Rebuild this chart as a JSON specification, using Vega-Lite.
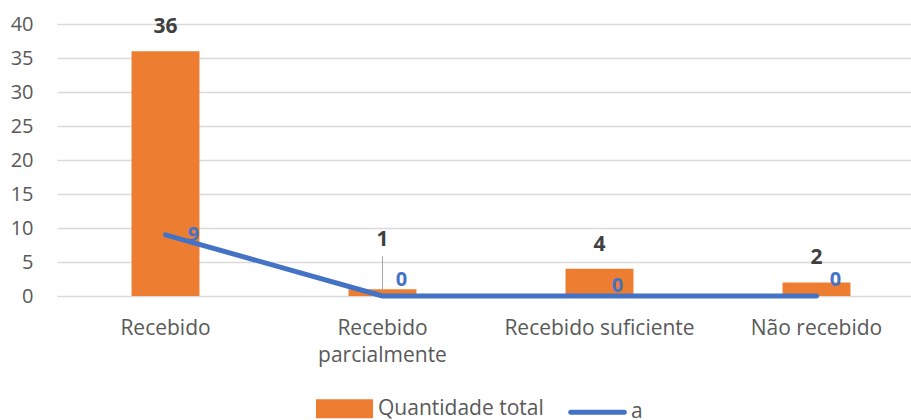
{
  "$schema": "https://vega.github.io/schema/vega-lite/v6.json",
  "width": 854,
  "height": 272,
  "autosize": {"type": "none"},
  "padding": {"left": 57, "top": 24, "right": 0, "bottom": 124},
  "background": "white",
  "config": {
    "font": "Open Sans",
    "view": {"stroke": null},
    "axisY": {"labelOverlap": false}
  },
  "data": {
    "values": [
      {"categoria": "Recebido", "quantidade": 36, "a": 9},
      {"categoria": "Recebido parcialmente", "quantidade": 1, "a": 0},
      {"categoria": "Recebido suficiente", "quantidade": 4, "a": 0},
      {"categoria": "Não recebido", "quantidade": 2, "a": 0}
    ]
  },
  "encoding": {
    "x": {
      "field": "categoria",
      "type": "nominal",
      "sort": null,
      "scale": {"paddingInner": 0, "paddingOuter": 0, "range": [0, 868]},
      "axis": {
        "title": null,
        "domain": false,
        "ticks": false,
        "grid": false,
        "labelAngle": 0,
        "labelPadding": 21,
        "labelFontSize": 21,
        "labelColor": "#595959",
        "labelLineHeight": 27,
        "labelLimit": 400,
        "labelOverlap": false,
        "labelExpr": "datum.label == 'Recebido parcialmente' ? ['Recebido', 'parcialmente'] : datum.label"
      }
    },
    "y": {
      "field": "quantidade",
      "type": "quantitative",
      "scale": {"domain": [0, 40], "nice": false},
      "axis": {
        "title": null,
        "values": [0, 5, 10, 15, 20, 25, 30, 35, 40],
        "domain": false,
        "ticks": false,
        "gridColor": "#D9D9D9",
        "gridWidth": 1.3,
        "labelFontSize": 20,
        "labelColor": "#595959",
        "labelPadding": 24,
        "labelOverlap": false
      }
    }
  },
  "layer": [
    {
      "mark": {"type": "bar", "width": {"band": 0.313}},
      "encoding": {
        "color": {
          "datum": "Quantidade total",
          "scale": {"domain": ["Quantidade total", "a"], "range": ["#ED7D31", "#4472C4"]},
          "legend": {
            "title": null,
            "orient": "none",
            "direction": "horizontal",
            "legendX": 259,
            "legendY": 356,
            "labelFontSize": 21,
            "labelColor": "#595959",
            "labelOffset": 5,
            "labelLimit": 400,
            "columnPadding": 16,
            "symbolSize": 2704,
            "encode": {
              "symbols": {
                "update": {
                  "shape": {"signal": "datum.value === 'a' ? 'M-1.03,0H1.03' : 'M-1,-0.27H1V0.27H-1Z'"},
                  "fill": {"signal": "datum.value === 'a' ? 'transparent' : '#ED7D31'"},
                  "stroke": {"signal": "datum.value === 'a' ? '#4472C4' : 'transparent'"},
                  "strokeWidth": {"value": 5},
                  "strokeCap": {"value": "round"},
                  "opacity": {"value": 1}
                }
              }
            }
          }
        }
      }
    },
    {
      "transform": [{"filter": "datum.categoria == 'Recebido parcialmente'"}],
      "mark": {"type": "rule", "color": "#A6A6A6", "strokeWidth": 1, "yOffset": 1, "y2Offset": -33},
      "encoding": {
        "y2": {"field": "quantidade"}
      }
    },
    {
      "transform": [{"filter": "datum.categoria != 'Recebido parcialmente'"}],
      "mark": {"type": "text", "dy": -18, "baseline": "alphabetic", "align": "center", "fontSize": 21, "fontWeight": "bold", "color": "#404040"},
      "encoding": {
        "text": {"field": "quantidade", "type": "quantitative"}
      }
    },
    {
      "transform": [{"filter": "datum.categoria == 'Recebido parcialmente'"}],
      "mark": {"type": "text", "dy": -43, "baseline": "alphabetic", "align": "center", "fontSize": 21, "fontWeight": "bold", "color": "#404040"},
      "encoding": {
        "text": {"field": "quantidade", "type": "quantitative"}
      }
    },
    {
      "transform": [{"filter": "datum.categoria == 'Recebido'"}],
      "mark": {"type": "text", "dx": 28, "dy": 6, "baseline": "alphabetic", "align": "center", "fontSize": 20, "fontWeight": "bold", "color": "#4472C4"},
      "encoding": {
        "y": {"field": "a", "type": "quantitative"},
        "text": {"field": "a", "type": "quantitative"}
      }
    },
    {
      "transform": [{"filter": "datum.categoria == 'Recebido suficiente'"}],
      "mark": {"type": "text", "dx": 18, "dy": -4, "baseline": "alphabetic", "align": "center", "fontSize": 20, "fontWeight": "bold", "color": "#4472C4"},
      "encoding": {
        "y": {"field": "a", "type": "quantitative"},
        "text": {"field": "a", "type": "quantitative"}
      }
    },
    {
      "transform": [{"filter": "datum.categoria == 'Recebido parcialmente' || datum.categoria == 'Não recebido'"}],
      "mark": {"type": "text", "dx": 19, "dy": -10, "baseline": "alphabetic", "align": "center", "fontSize": 20, "fontWeight": "bold", "color": "#4472C4"},
      "encoding": {
        "y": {"field": "a", "type": "quantitative"},
        "text": {"field": "a", "type": "quantitative"}
      }
    },
    {
      "mark": {"type": "line", "strokeWidth": 5, "strokeCap": "round", "strokeJoin": "round"},
      "encoding": {
        "y": {"field": "a", "type": "quantitative"},
        "color": {"datum": "a"}
      }
    }
  ]
}
